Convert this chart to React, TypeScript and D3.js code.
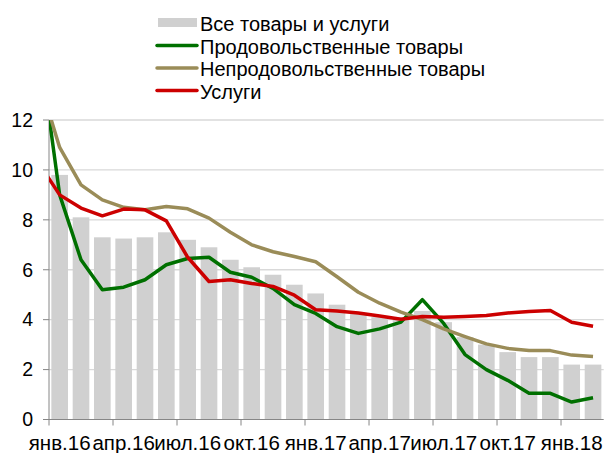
import React from "react";
import * as d3 from "d3";

const months = [
  "янв.16","фев.16","мар.16","апр.16","май.16","июн.16","июл.16","авг.16","сен.16","окт.16","ноя.16","дек.16",
  "янв.17","фев.17","мар.17","апр.17","май.17","июн.17","июл.17","авг.17","сен.17","окт.17","ноя.17","дек.17",
  "янв.18","фев.18",
];
const tickLabels = ["янв.16","апр.16","июл.16","окт.16","янв.17","апр.17","июл.17","окт.17","янв.18"];
const yTicks = [0, 2, 4, 6, 8, 10, 12];

// All goods and services (bars), Jan 2016 - Feb 2018
const allItems = [9.8,8.1,7.3,7.25,7.3,7.5,7.2,6.9,6.4,6.1,5.8,5.4,5.05,4.6,4.25,4.1,4.1,4.35,3.9,3.3,3.0,2.7,2.5,2.5,2.2,2.2];
// Lines start with Dec 2015 (clipped by the plot area)
const food = [15.3,9.0,6.4,5.2,5.3,5.6,6.2,6.45,6.5,5.9,5.7,5.25,4.6,4.25,3.72,3.45,3.63,3.9,4.8,3.85,2.6,2.0,1.57,1.05,1.05,0.7,0.87];
const nonFood = [13.7,10.9,9.4,8.8,8.5,8.4,8.53,8.44,8.07,7.5,7.0,6.72,6.53,6.32,5.72,5.1,4.66,4.3,4.0,3.63,3.32,3.03,2.85,2.76,2.76,2.58,2.52];
const services = [10.3,9.0,8.47,8.16,8.43,8.4,7.96,6.5,5.53,5.6,5.45,5.33,4.98,4.4,4.35,4.27,4.15,4.02,4.13,4.1,4.13,4.17,4.27,4.33,4.37,3.9,3.74];

const seriesNames = ["Все товары и услуги", "Продовольственные товары", "Непродовольственные товары", "Услуги"];
const colors = { bar: "#d0d0d0", food: "#007000", nonFood: "#9a8c58", services: "#cc0000" };

const W = 605, H = 453;
const left = 49, right = 603.7, top = 120, bottom = 419.5;
const FONT = "'Liberation Sans', Arial, sans-serif";

export default function App() {
  const x = d3.scaleBand<string>().domain(months).range([left, right]).paddingInner(0.22).paddingOuter(0.11);
  const xi = d3.scaleLinear().domain([0, months.length]).range([left, right]);
  const y = d3.scaleLinear().domain([0, 12]).range([bottom, top]);

  const lineGen = d3.line<number>()
    .x((_, i) => xi(i - 1 + 0.5))
    .y((v) => y(v));

  const lines = [
    { data: food, color: colors.food },
    { data: nonFood, color: colors.nonFood },
    { data: services, color: colors.services },
  ];

  const legendRows = [
    { name: seriesNames[0], type: "bar", color: colors.bar },
    { name: seriesNames[1], type: "line", color: colors.food },
    { name: seriesNames[2], type: "line", color: colors.nonFood },
    { name: seriesNames[3], type: "line", color: colors.services },
  ];

  return (
    <svg width={W} height={H} style={{ position: "absolute", left: 0, top: 0, background: "#fff" }} fontFamily={FONT}>
      <defs>
        <clipPath id="plotClip">
          <rect x={left} y={top} width={right - left} height={bottom - top} />
        </clipPath>
      </defs>
      {/* gridlines */}
      {yTicks.filter((t) => t > 0).map((t) => (
        <line key={t} x1={left} x2={right} y1={y(t)} y2={y(t)} stroke="#d9d9d9" strokeWidth={1.3} />
      ))}
      {/* bars */}
      {allItems.map((v, i) => (
        <rect key={i} x={x(months[i])} y={y(v)} width={x.bandwidth()} height={y(0) - y(v)} fill={colors.bar} />
      ))}
      {/* axes */}
      <line x1={left} x2={left} y1={top} y2={bottom} stroke="#868686" strokeWidth={1} />
      <line x1={left} x2={right} y1={bottom} y2={bottom} stroke="#868686" strokeWidth={1} />
      {yTicks.map((t) => (
        <g key={t}>
          <line x1={left - 6} x2={left} y1={y(t)} y2={y(t)} stroke="#868686" />
          <text x={33} y={y(t)} dy="0.35em" textAnchor="end" fontSize={19.5} fill="#000">{t}</text>
        </g>
      ))}
      {months.map((m, i) => (i % 3 === 0 ? (
        <line key={m} x1={xi(i)} x2={xi(i)} y1={bottom} y2={bottom + 6} stroke="#868686" />
      ) : null))}
      {tickLabels.map((lab) => {
        const i = months.indexOf(lab);
        return (
          <text key={lab} x={xi(i + 0.5)} y={450} textAnchor="middle" fontSize={20.5} fill="#000">{lab}</text>
        );
      })}
      {/* lines */}
      <g clipPath="url(#plotClip)">
        {lines.map((l, k) => (
          <path key={k} d={lineGen(l.data) || ""} fill="none" stroke={l.color} strokeWidth={3.5} strokeLinejoin="round" />
        ))}
      </g>
      {/* legend */}
      {legendRows.map((r, k) => {
        const base = 31 + k * 22.5;
        return (
          <g key={k}>
            {r.type === "bar" ? (
              <rect x={158} y={18} width={39} height={9} fill={r.color} />
            ) : (
              <line x1={157} x2={197} y1={base - 8} y2={base - 8} stroke={r.color} strokeWidth={3.5} strokeLinecap="round" />
            )}
            <text x={200} y={base} fontSize={20} fill="#000">{r.name}</text>
          </g>
        );
      })}
    </svg>
  );
}
